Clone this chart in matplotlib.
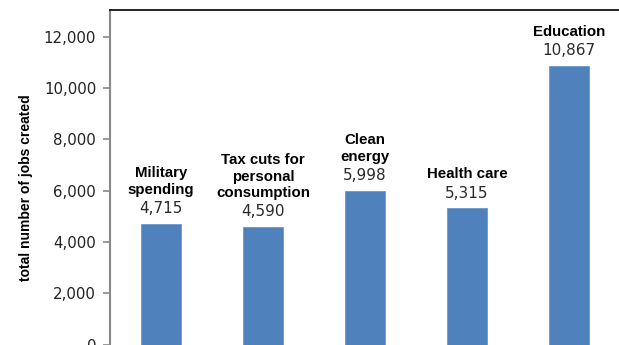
import matplotlib.pyplot as plt
from matplotlib.ticker import FuncFormatter

categories = ["Military\nspending", "Tax cuts for\npersonal\nconsumption",
              "Clean\nenergy", "Health care", "Education"]
jobs = [4715, 4590, 5998, 5315, 10867]
yticks = [0, 2000, 4000, 6000, 8000, 10000, 12000]

W, H = 619, 345
fig = plt.figure(figsize=(W / 100, H / 100), dpi=100)
# plot area: left spine at x=110px, top border at y=10px, zero line at the bottom edge
ax = fig.add_axes([110 / W, 0.4 / H, (620 - 110) / W, (344.6 - 10.3) / H])

ax.bar(range(len(jobs)), jobs, width=0.4, color="#4F81BD", edgecolor="#6E97CB", linewidth=0.6)
ax.set_xlim(-0.5, 4.5)
ax.set_ylim(0, 13030)
ax.set_yticks(yticks)
ax.yaxis.set_major_formatter(FuncFormatter(lambda v, p: f"{int(v):,}"))
ax.tick_params(axis="y", length=5, width=1.2, color="#888888", pad=5,
               labelsize=10.8, labelcolor="#222222")
ax.set_xticks([])

for s in ("right", "bottom"):
    ax.spines[s].set_visible(False)
ax.spines["left"].set_color("#888888")
ax.spines["left"].set_linewidth(1.5)
ax.spines["top"].set_color("black")
ax.spines["top"].set_linewidth(1.2)

for i, (name, v) in enumerate(zip(categories, jobs)):
    ax.annotate(f"{v:,}", (i, v), xytext=(0, 5.5), textcoords="offset points",
                ha="center", va="bottom", fontsize=11, color="#2a2a2a",
                family="DejaVu Sans")
    ax.annotate(name, (i, v), xytext=(0, 19.5), textcoords="offset points",
                ha="center", va="bottom", fontsize=10.8, fontweight="bold",
                family="Liberation Sans", linespacing=1.2)

fig.text(26 / W, 1 - 187.5 / H, "total number of jobs created", rotation=90,
         ha="center", va="center", fontsize=10, fontweight="bold",
         family="Liberation Sans")

fig.savefig("out.png", dpi=100)
